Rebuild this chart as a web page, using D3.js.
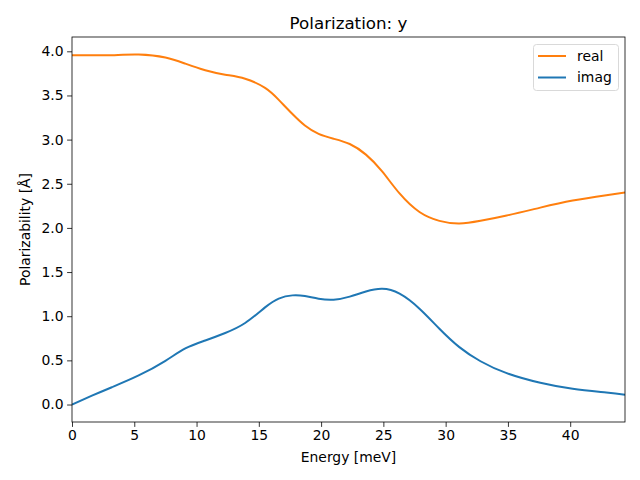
<!DOCTYPE html>
<html><head><meta charset="utf-8">
<script src="https://cdn.jsdelivr.net/npm/d3@7"></script>
<style>body{margin:0;background:#fff}svg{display:block}text{font-family:"DejaVu Sans",sans-serif;fill:#000}</style>
</head><body><svg id="c" width="640" height="480"></svg>
<script>
const energy = [0,1.6,3.2,5.35,7.5,9.1,10.7,12.3,13.9,15.5,16.6,17.7,18.7,19.8,21.0,22.3,23.6,24.9,26.3,27.9,29.5,31.1,32.8,34.9,37.6,40.2,42.9,44.4];
const realVals = [3.955,3.955,3.956,3.963,3.93,3.86,3.785,3.735,3.69,3.585,3.45,3.29,3.16,3.065,3.01,2.95,2.83,2.64,2.39,2.18,2.08,2.05,2.08,2.14,2.23,2.31,2.37,2.40];
const imagVals = [0,0.10,0.196,0.329,0.495,0.635,0.725,0.81,0.923,1.10,1.20,1.236,1.228,1.198,1.187,1.222,1.28,1.31,1.255,1.085,0.858,0.65,0.49,0.355,0.246,0.178,0.135,0.11];
const xTicks = [0,5,10,15,20,25,30,35,40];
const yTicks = [0,0.5,1,1.5,2,2.5,3,3.5,4];
const seriesNames = ["real","imag"];
const colors = ["#ff7f0e","#1f77b4"];

const L=72,R=625,T=37,B=422;
const svg=d3.select("#c");
const x=d3.scaleLinear().domain([0,44.4]).range([L,R]);
const ymin=-0.198, ymax=4.162;
const y=d3.scaleLinear().domain([ymin,ymax]).range([B,T]);

const line=d3.line().x(d=>x(d[0])).y(d=>y(d[1])).curve(d3.curveNatural);
const series=[realVals,imagVals];
svg.append("clipPath").attr("id","cp").append("rect").attr("x",L).attr("y",T).attr("width",R-L).attr("height",B-T);
series.forEach((vals,i)=>{
  svg.append("path").attr("clip-path","url(#cp)").datum(energy.map((e,j)=>[e,vals[j]]))
    .attr("d",line).attr("fill","none").attr("stroke",colors[i]).attr("stroke-width",2);
});

const xa=svg.append("g").attr("transform",`translate(0,${B})`).call(d3.axisBottom(x).tickValues(xTicks).tickFormat(d3.format("d")).tickSize(4.9).tickPadding(3.5));
const ya=svg.append("g").attr("transform",`translate(${L},0)`).call(d3.axisLeft(y).tickValues(yTicks).tickFormat(d3.format(".1f")).tickSize(4.9).tickPadding(3.5));
[xa,ya].forEach(a=>{a.select(".domain").remove();a.selectAll("text").attr("font-size","13.9px").attr("font-family","DejaVu Sans").attr("fill","#000");a.selectAll("line").attr("stroke","#000").attr("stroke-width",0.8);});
svg.append("rect").attr("x",L).attr("y",T).attr("width",R-L).attr("height",B-T).attr("fill","none").attr("stroke","#000").attr("stroke-width",0.8);

svg.append("text").attr("x",(L+R)/2).attr("y",29).attr("text-anchor","middle").attr("font-size","16.7px").text("Polarization: y");
svg.append("text").attr("x",(L+R)/2).attr("y",462).attr("text-anchor","middle").attr("font-size","13.9px").text("Energy [meV]");
svg.append("text").attr("transform",`translate(30,${(T+B)/2}) rotate(-90)`).attr("text-anchor","middle").attr("font-size","13.9px").text("Polarizability [Å]");

const lg=svg.append("g");
lg.append("rect").attr("x",533.5).attr("y",44.5).attr("width",85).attr("height",46).attr("rx",3).attr("fill","#fff").attr("fill-opacity",0.8).attr("stroke","#d9d9d9").attr("stroke-width",1);
seriesNames.forEach((n,i)=>{
  const yy=56+i*21.5;
  lg.append("line").attr("x1",538).attr("x2",566).attr("y1",yy).attr("y2",yy).attr("stroke",colors[i]).attr("stroke-width",2);
  lg.append("text").attr("x",577).attr("y",yy+4.8).attr("font-size","13.9px").text(n);
});
</script></body></html>
